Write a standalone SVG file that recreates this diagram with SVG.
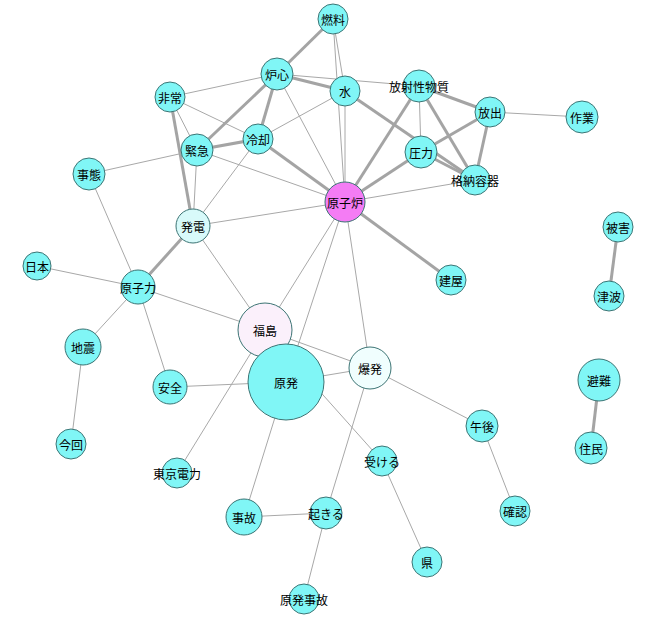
<svg xmlns="http://www.w3.org/2000/svg" width="652" height="623" viewBox="0 0 652 623">
<style>
.e{stroke:#a8a8a8;stroke-width:1}
.t{stroke:#a4a4a4;stroke-width:3}
.n circle{fill:#80f6f6;stroke:#3c7474;stroke-width:1}
text{font-family:"Noto Sans CJK JP","Noto Sans",sans-serif;font-size:12px;fill:#000;text-anchor:middle;dominant-baseline:central}
</style>
<rect width="652" height="623" fill="#fff"/>
<g id="edges">
<line class="t" x1="333" y1="19" x2="277" y2="74"/>
<line class="e" x1="333" y1="19" x2="345" y2="91"/>
<line class="e" x1="333" y1="19" x2="345" y2="202"/>
<line class="t" x1="277" y1="74" x2="345" y2="91"/>
<line class="e" x1="277" y1="74" x2="419" y2="86"/>
<line class="e" x1="277" y1="74" x2="170" y2="97"/>
<line class="t" x1="277" y1="74" x2="258" y2="139"/>
<line class="t" x1="277" y1="74" x2="197" y2="150"/>
<line class="e" x1="277" y1="74" x2="345" y2="202"/>
<line class="e" x1="170" y1="97" x2="197" y2="150"/>
<line class="t" x1="170" y1="97" x2="193" y2="226"/>
<line class="e" x1="170" y1="97" x2="258" y2="139"/>
<line class="t" x1="197" y1="150" x2="258" y2="139"/>
<line class="e" x1="197" y1="150" x2="89" y2="174"/>
<line class="e" x1="197" y1="150" x2="345" y2="202"/>
<line class="e" x1="197" y1="150" x2="193" y2="226"/>
<line class="e" x1="258" y1="139" x2="345" y2="91"/>
<line class="e" x1="258" y1="139" x2="193" y2="226"/>
<line class="t" x1="258" y1="139" x2="345" y2="202"/>
<line class="e" x1="345" y1="91" x2="345" y2="202"/>
<line class="t" x1="345" y1="91" x2="475" y2="180"/>
<line class="e" x1="419" y1="86" x2="421" y2="152"/>
<line class="t" x1="419" y1="86" x2="490" y2="112"/>
<line class="t" x1="419" y1="86" x2="475" y2="180"/>
<line class="t" x1="419" y1="86" x2="345" y2="202"/>
<line class="t" x1="421" y1="152" x2="490" y2="112"/>
<line class="t" x1="421" y1="152" x2="475" y2="180"/>
<line class="t" x1="490" y1="112" x2="475" y2="180"/>
<line class="e" x1="490" y1="112" x2="582" y2="117"/>
<line class="e" x1="345" y1="202" x2="475" y2="180"/>
<line class="t" x1="345" y1="202" x2="421" y2="152"/>
<line class="t" x1="345" y1="202" x2="451" y2="280"/>
<line class="e" x1="345" y1="202" x2="193" y2="226"/>
<line class="e" x1="345" y1="202" x2="265" y2="330"/>
<line class="e" x1="345" y1="202" x2="286" y2="382"/>
<line class="e" x1="345" y1="202" x2="370" y2="368"/>
<line class="t" x1="193" y1="226" x2="138" y2="287"/>
<line class="e" x1="193" y1="226" x2="265" y2="330"/>
<line class="e" x1="89" y1="174" x2="138" y2="287"/>
<line class="e" x1="37" y1="266" x2="138" y2="287"/>
<line class="e" x1="138" y1="287" x2="83" y2="347"/>
<line class="e" x1="138" y1="287" x2="170" y2="387"/>
<line class="e" x1="138" y1="287" x2="265" y2="330"/>
<line class="e" x1="83" y1="347" x2="71" y2="444"/>
<line class="e" x1="170" y1="387" x2="286" y2="382"/>
<line class="e" x1="265" y1="330" x2="370" y2="368"/>
<line class="e" x1="265" y1="330" x2="177" y2="473"/>
<line class="e" x1="265" y1="330" x2="382" y2="461"/>
<line class="e" x1="286" y1="382" x2="370" y2="368"/>
<line class="e" x1="286" y1="382" x2="244" y2="517"/>
<line class="e" x1="370" y1="368" x2="326" y2="513"/>
<line class="e" x1="370" y1="368" x2="482" y2="426"/>
<line class="e" x1="382" y1="461" x2="427" y2="562"/>
<line class="e" x1="244" y1="517" x2="326" y2="513"/>
<line class="e" x1="326" y1="513" x2="304" y2="599"/>
<line class="e" x1="482" y1="426" x2="515" y2="511"/>
<line class="t" x1="618" y1="227" x2="609" y2="296"/>
<line class="t" x1="599" y1="380" x2="591" y2="448"/>
</g>
<g id="n-nenryo" class="n"><circle cx="333" cy="19" r="15"/><text x="333" y="19">燃料</text></g>
<g id="n-roshin" class="n"><circle cx="277" cy="74" r="16"/><text x="277" y="74">炉心</text></g>
<g id="n-mizu" class="n"><circle cx="345" cy="91" r="15"/><text x="345" y="91">水</text></g>
<g id="n-hijo" class="n"><circle cx="170" cy="97" r="15"/><text x="170" y="97">非常</text></g>
<g id="n-reikyaku" class="n"><circle cx="258" cy="139" r="15"/><text x="258" y="139">冷却</text></g>
<g id="n-kinkyu" class="n"><circle cx="197" cy="150" r="16"/><text x="197" y="150">緊急</text></g>
<g id="n-hoshasei" class="n"><circle cx="419" cy="86" r="16"/><text x="419" y="86">放射性物質</text></g>
<g id="n-hoshutsu" class="n"><circle cx="490" cy="112" r="15"/><text x="490" y="112">放出</text></g>
<g id="n-sagyo" class="n"><circle cx="582" cy="117" r="16"/><text x="582" y="117">作業</text></g>
<g id="n-atsuryoku" class="n"><circle cx="421" cy="152" r="16"/><text x="421" y="152">圧力</text></g>
<g id="n-kakuno" class="n"><circle cx="475" cy="180" r="15"/><text x="475" y="180">格納容器</text></g>
<g id="n-jitai" class="n"><circle cx="89" cy="174" r="16"/><text x="89" y="174">事態</text></g>
<g id="n-hatsuden" class="n"><circle cx="193" cy="226" r="17" style="fill:#d8fafa"/><text x="193" y="226">発電</text></g>
<g id="n-nihon" class="n"><circle cx="37" cy="266" r="14"/><text x="37" y="266">日本</text></g>
<g id="n-genshiryoku" class="n"><circle cx="138" cy="287" r="17"/><text x="138" y="287">原子力</text></g>
<g id="n-genshiro" class="n"><circle cx="345" cy="202" r="20" style="fill:#f47cf4"/><text x="345" y="202">原子炉</text></g>
<g id="n-fukushima" class="n"><circle cx="265" cy="330" r="27" style="fill:#fbf0fb"/><text x="265" y="330">福島</text></g>
<g id="n-genpatsu" class="n"><circle cx="286" cy="382" r="38"/><text x="286" y="382">原発</text></g>
<g id="n-bakuhatsu" class="n"><circle cx="370" cy="368" r="21" style="fill:#f0fefe"/><text x="370" y="368">爆発</text></g>
<g id="n-tepco" class="n"><circle cx="177" cy="473" r="15"/><text x="177" y="473">東京電力</text></g>
<g id="n-ukeru" class="n"><circle cx="382" cy="461" r="15"/><text x="382" y="461">受ける</text></g>
<g id="n-jiko" class="n"><circle cx="244" cy="517" r="18"/><text x="244" y="517">事故</text></g>
<g id="n-okiru" class="n"><circle cx="326" cy="513" r="16"/><text x="326" y="513">起きる</text></g>
<g id="n-ken" class="n"><circle cx="427" cy="562" r="15"/><text x="427" y="562">県</text></g>
<g id="n-genpatsujiko" class="n"><circle cx="304" cy="599" r="15"/><text x="304" y="599">原発事故</text></g>
<g id="n-higai" class="n"><circle cx="618" cy="227" r="15"/><text x="618" y="227">被害</text></g>
<g id="n-tateya" class="n"><circle cx="451" cy="280" r="15"/><text x="451" y="280">建屋</text></g>
<g id="n-tsunami" class="n"><circle cx="609" cy="296" r="15"/><text x="609" y="296">津波</text></g>
<g id="n-hinan" class="n"><circle cx="599" cy="380" r="21"/><text x="599" y="380">避難</text></g>
<g id="n-gogo" class="n"><circle cx="482" cy="426" r="16"/><text x="482" y="426">午後</text></g>
<g id="n-jumin" class="n"><circle cx="591" cy="448" r="16"/><text x="591" y="448">住民</text></g>
<g id="n-kakunin" class="n"><circle cx="515" cy="511" r="15"/><text x="515" y="511">確認</text></g>
<g id="n-jishin" class="n"><circle cx="83" cy="347" r="18"/><text x="83" y="347">地震</text></g>
<g id="n-anzen" class="n"><circle cx="170" cy="387" r="17"/><text x="170" y="387">安全</text></g>
<g id="n-konkai" class="n"><circle cx="71" cy="444" r="15"/><text x="71" y="444">今回</text></g>
</svg>
